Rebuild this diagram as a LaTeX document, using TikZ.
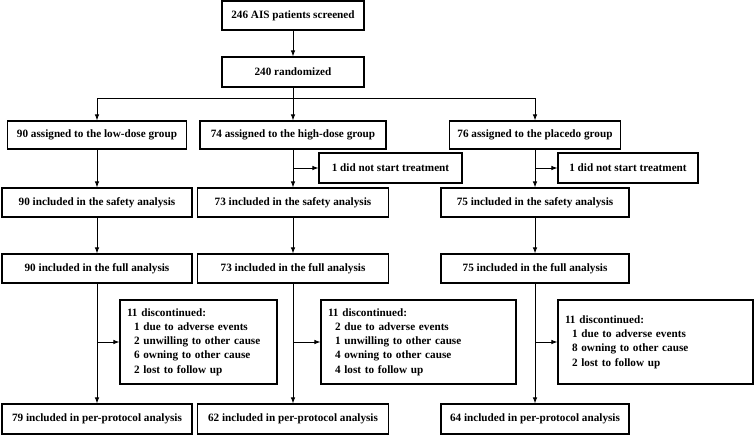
\documentclass[tikz,border=0pt]{standalone}
\usepackage{fontspec}
\setmainfont{Liberation Serif}
\usetikzlibrary{arrows.meta}
\begin{document}
\begin{tikzpicture}[x=1pt,y=-1pt,
  box/.style={draw, line width=1.1pt, inner sep=0pt, font=\fontsize{11.2}{14.3}\selectfont\bfseries, align=center},
  disc/.style={box, align=left, inner xsep=7pt, minimum height=84pt},
  arr/.style={-{Latex[length=6pt,width=4.5pt]}, line width=0.9pt},
  ln/.style={line width=0.9pt}]
\useasboundingbox (0,0) rectangle (754,436);
% top
\node[box, minimum width=142pt, minimum height=29pt] (scr) at (293,15.5) {246 AIS patients screened};
\node[box, minimum width=142pt, minimum height=30pt] (rnd) at (293,72) {240 randomized};
% row 1
\node[box, minimum width=179pt, minimum height=28pt] (low1) at (97,135) {90 assigned to the low-dose group};
\node[box, minimum width=186pt, minimum height=28pt] (high1) at (293,135) {74 assigned to the high-dose group};
\node[box, minimum width=171pt, minimum height=28pt] (pla1) at (535,135) {76 assigned to the placedo group};
% did not start
\node[box, minimum width=143pt, minimum height=30pt] (dnsh) at (390.5,168) {1 did not start treatment};
\node[box, minimum width=140pt, minimum height=30pt] (dnsp) at (628,168) {1 did not start treatment};
% safety
\node[box, minimum width=190pt, minimum height=29pt] (low2) at (97,202.5) {90 included in the safety analysis};
\node[box, minimum width=191pt, minimum height=29pt] (high2) at (293,202.5) {73 included in the safety analysis};
\node[box, minimum width=188pt, minimum height=29pt] (pla2) at (535,202.5) {75 included in the safety analysis};
% full
\node[box, minimum width=190pt, minimum height=29pt] (low3) at (97,268.5) {90 included in the full analysis};
\node[box, minimum width=191pt, minimum height=29pt] (high3) at (293,268.5) {73 included in the full analysis};
\node[box, minimum width=188pt, minimum height=29pt] (pla3) at (535,268.5) {75 included in the full analysis};
% discontinued
\node[disc, text width=143pt] (dlow) at (198.5,342) {11 discontinued:\\\hspace*{7pt}1 due to adverse events\\\hspace*{7pt}2 unwilling to other cause\\\hspace*{7pt}6 owning to other cause\\\hspace*{7pt}2 lost to follow up};
\node[disc, text width=181pt] (dhigh) at (418.5,342) {11 discontinued:\\\hspace*{7pt}2 due to adverse events\\\hspace*{7pt}1 unwilling to other cause\\\hspace*{7pt}4 owning to other cause\\\hspace*{7pt}4 lost to follow up};
\node[disc, text width=181pt] (dpla) at (655.5,342) {11 discontinued:\\\hspace*{7pt}1 due to adverse events\\\hspace*{7pt}8 owning to other cause\\\hspace*{7pt}2 lost to follow up};
% per protocol
\node[box, minimum width=190pt, minimum height=30pt] (low4) at (97,419) {79 included in per-protocol analysis};
\node[box, minimum width=191pt, minimum height=30pt] (high4) at (293,419) {62 included in per-protocol analysis};
\node[box, minimum width=188pt, minimum height=30pt] (pla4) at (535,419) {64 included in per-protocol analysis};
% connectors
\coordinate (br) at (293,98);
\draw[arr] (scr) -- (rnd);
\draw[ln] (rnd) -- (br);
\draw[arr] (br) -- (high1);
\draw[arr] (br) -| (low1.north);
\draw[arr] (br) -| (pla1.north);
\draw[arr] (low1) -- (low2);
\draw[arr] (high1) -- (high2);
\draw[arr] (pla1) -- (pla2);
\draw[arr] (high1.south |- dnsh.west) -- (dnsh.west);
\draw[arr] (pla1.south |- dnsp.west) -- (dnsp.west);
\draw[arr] (low2) -- (low3);
\draw[arr] (high2) -- (high3);
\draw[arr] (pla2) -- (pla3);
\draw[arr] (low3) -- (low4);
\draw[arr] (high3) -- (high4);
\draw[arr] (pla3) -- (pla4);
\draw[arr] (low3.south |- dlow.west) -- (dlow.west);
\draw[arr] (high3.south |- dhigh.west) -- (dhigh.west);
\draw[arr] (pla3.south |- dpla.west) -- (dpla.west);
\end{tikzpicture}
\end{document}
